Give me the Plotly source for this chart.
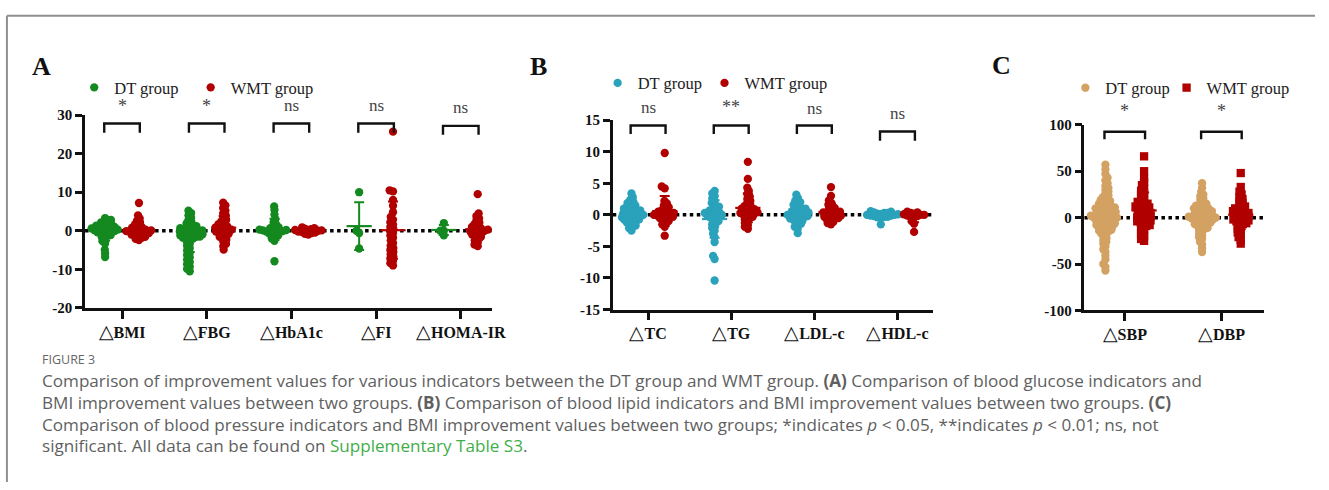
import math
import plotly.graph_objects as go

W, H = 1329, 490

# ---------------- data ----------------
A_categories = ["BMI", "FBG", "HbA1c", "FI", "HOMA-IR"]
B_categories = ["TC", "TG", "LDL-c", "HDL-c"]
C_categories = ["SBP", "DBP"]

A_DT = {
    "BMI": [3.3, 2.8, 2.5, 2.2, 2.0, 1.7, 1.5, 1.3, 1.2, 1.0, 0.9, 0.8, 0.6, 0.5, 0.4, 0.3, 0.2, 0.1, 0.0,
            -0.1, -0.2, -0.4, -0.5, -0.7, -0.9, -1.1, -1.4, -1.7, -2.1, -2.7, -3.3, -4.9, -5.8, -6.8],
    "FBG": [5.2, 4.6, 4.0, 3.4, 2.8, 2.3, 1.9, 1.5, 1.2, 1.0, 0.9, 0.7, 0.5, 0.4, 0.3, 0.1, 0.0, -0.1, -0.2,
            -0.3, -0.5, -0.6, -0.7, -0.9, -1.0, -1.1, -1.2, -1.4, -1.5, -1.6, -1.8, -1.9, -2.0, -2.3, -2.8,
            -3.3, -3.9, -4.5, -5.1, -5.7, -6.3, -6.9, -7.5, -8.1, -8.7, -9.3, -9.9, -10.5],
    "HbA1c": [6.3, 5.4, 4.2, 3.0, 2.2, 1.6, 1.2, 0.9, 0.7, 0.5, 0.3, 0.2, 0.1, 0.0, -0.1, -0.2, -0.3, -0.5,
              -0.7, -0.9, -1.2, -1.6, -2.0, -2.6, -7.9],
    "FI": [10.0, 0.0, -0.6, -4.6],
    "HOMA-IR": [2.0, 0.0, 0.0, -1.2],
}
A_WMT = {
    "BMI": [7.2, 4.0, 3.2, 2.6, 2.1, 1.7, 1.3, 1.0, 0.8, 0.6, 0.4, 0.3, 0.1, 0.0, -0.1, -0.2, -0.3, -0.5,
            -0.6, -0.7, -0.9, -1.0, -1.2, -1.4, -1.6, -1.8, -2.1, -2.4],
    "FBG": [7.3, 6.6, 5.9, 5.2, 4.5, 3.9, 3.3, 2.8, 2.4, 2.0, 1.7, 1.4, 1.1, 0.9, 0.7, 0.5, 0.3, 0.1, 0.0,
            -0.2, -0.4, -0.6, -0.8, -1.0, -1.3, -1.6, -1.9, -2.3, -2.8, -3.4, -4.0, -4.9],
    "HbA1c": [0.9, 0.7, 0.5, 0.4, 0.2, 0.1, 0.0, -0.1, -0.2, -0.3, -0.5, -0.6, -0.8, -1.0],
    "FI": [25.7, 10.5, 10.2, 8.0, 6.5, 4.8, 3.6, 2.9, 2.2, 1.6, 1.0, 0.5, 0.0, -0.6, -1.2, -1.8, -2.5, -3.2,
           -3.9, -4.5, -5.0, -5.5, -6.1, -6.7, -7.2, -7.8, -8.4, -9.0],
    "HOMA-IR": [9.5, 4.5, 3.8, 3.2, 2.6, 2.1, 1.7, 1.3, 1.0, 0.7, 0.5, 0.3, 0.1, 0.0, -0.2, -0.4, -0.6, -0.8,
                -1.0, -1.3, -1.6, -2.0, -2.5, -3.0, -3.6, -4.0],
}
B_DT = {
    "TC": [3.4, 2.8, 2.4, 2.1, 1.9, 1.7, 1.5, 1.3, 1.2, 1.0, 0.9, 0.8, 0.7, 0.6, 0.5, 0.4, 0.3, 0.2, 0.1, 0.0,
           0.0, -0.1, -0.2, -0.3, -0.4, -0.5, -0.6, -0.7, -0.8, -0.9, -1.0, -1.2, -1.3, -1.5, -1.7, -1.9,
           -2.1, -2.5],
    "TG": [3.8, 3.4, 3.0, 2.6, 2.2, 1.9, 1.6, 1.3, 1.1, 0.9, 0.7, 0.5, 0.4, 0.3, 0.2, 0.1, 0.0, -0.1, -0.2,
           -0.3, -0.4, -0.6, -0.8, -1.0, -1.2, -1.5, -1.8, -2.1, -2.5, -3.0, -3.5, -4.3, -6.5, -7.0, -10.4],
    "LDL-c": [3.2, 2.7, 2.3, 2.0, 1.8, 1.6, 1.4, 1.2, 1.0, 0.9, 0.8, 0.6, 0.5, 0.4, 0.3, 0.2, 0.1, 0.0, 0.0,
              -0.1, -0.2, -0.3, -0.4, -0.5, -0.6, -0.7, -0.9, -1.0, -1.2, -1.4, -1.6, -1.9, -2.2, -2.9],
    "HDL-c": [0.6, 0.5, 0.4, 0.3, 0.3, 0.2, 0.1, 0.1, 0.0, 0.0, -0.1, -0.1, -0.2, -0.3, -0.3, -0.4, -0.5, -1.5],
}
B_WMT = {
    "TC": [9.8, 4.5, 4.2, 2.2, 1.8, 1.5, 1.2, 1.0, 0.8, 0.6, 0.5, 0.4, 0.3, 0.2, 0.1, 0.0, 0.0, -0.1, -0.2,
           -0.3, -0.4, -0.5, -0.6, -0.8, -1.0, -1.2, -1.5, -1.9, -3.3],
    "TG": [8.4, 5.7, 4.3, 3.8, 3.3, 2.9, 2.5, 2.2, 1.9, 1.6, 1.4, 1.2, 1.0, 0.9, 0.7, 0.6, 0.5, 0.4, 0.3, 0.2,
           0.1, 0.0, -0.1, -0.3, -0.5, -0.7, -1.0, -1.3, -1.6, -1.9, -2.2],
    "LDL-c": [4.4, 3.0, 2.3, 1.9, 1.6, 1.3, 1.1, 0.9, 0.7, 0.5, 0.4, 0.3, 0.2, 0.1, 0.0, -0.1, -0.2, -0.3,
              -0.4, -0.5, -0.6, -0.7, -0.9, -1.1, -1.3, -1.5],
    "HDL-c": [0.5, 0.4, 0.3, 0.2, 0.1, 0.0, 0.0, -0.1, -0.2, -0.3, -0.4, -1.0, -1.4, -2.7],
}
C_DT = {
    "SBP": [57, 52, 47, 43, 40, 37, 34, 32, 30, 28, 26, 24, 22, 21, 19, 18, 16, 15, 14, 12, 11, 10, 9, 8, 7,
            6, 5, 4, 3, 2, 1, 0, 0, -1, -2, -3, -4, -5, -6, -7, -8, -9, -10, -11, -12, -14, -15, -17, -18,
            -20, -22, -24, -26, -28, -31, -34, -37, -41, -45, -50, -53, -57, 0, 3, -3, 6, -6, 9, 12, -13,
            1, -1, 4, -4, 7, -8, 10, -10, 13, -15, 18, 2],
    "DBP": [37, 32, 28, 25, 23, 21, 19, 17, 15, 14, 12, 11, 10, 9, 8, 7, 6, 5, 4, 3, 2, 1, 0, 0, -1, -2, -3,
            -4, -5, -6, -7, -8, -9, -10, -12, -13, -15, -17, -19, -21, -23, -26, -29, -33, -37, 2, -2, 5, -5,
            1, -1, 3, -3, 7, -7, 10, -11, 13, 0],
}
C_WMT = {
    "SBP": [66, 50, 42, 38, 35, 32, 29, 27, 25, 23, 21, 19, 17, 15, 14, 12, 11, 10, 8, 7, 6, 5, 4, 3, 2, 1,
            0, -1, -2, -3, -4, -5, -6, -8, -9, -10, -12, -14, -16, -18, -20, -23, -25, 5, 0, -5, 10, 15],
    "DBP": [48, 33, 28, 25, 22, 20, 18, 16, 14, 12, 11, 10, 9, 8, 7, 6, 5, 4, 3, 2, 1, 0, -1, -2, -3, -4,
            -5, -6, -7, -8, -10, -12, -14, -16, -18, -21, -24, -28, 3, 0, -3, 6],
}

A_sig = ["*", "*", "ns", "ns", "ns"]
B_sig = ["ns", "**", "ns", "ns"]
C_sig = ["*", "*"]

A_yticks = [-20, -10, 0, 10, 20, 30]
B_yticks = [-15, -10, -5, 0, 5, 10, 15]
C_yticks = [-100, -50, 0, 50, 100]

series_names = ["DT group", "WMT group"]

# ---------------- styling / layout config ----------------
RED = "#b10000"
SERIF = "Liberation Serif"


def X(p):
    return p / W


def Y(p):
    return 1 - p / H


panels = [
    dict(key="A", cats=A_categories, dt=A_DT, wmt=A_WMT, sig=A_sig, yt=A_yticks,
         dtcolor="#14891f", wmtsym="circle",
         xdom=(86, 497), ydom=(110.7, 310), xr=(-0.436, 4.366), yr=(-20, 30),
         sig_y=[32.3, 32.3, 32.6, 32.6, 32.0], br_top=[27.8, 27.8, 27.8, 27.8, 27.2],
         br_leg=[25.4, 25.4, 25.4, 25.4, 24.9],
         label=(42, 60), legpos=[(95, 82.3), (212.7, 82.3)]),
    dict(key="B", cats=B_categories, dt=B_DT, wmt=B_WMT, sig=B_sig, yt=B_yticks,
         dtcolor="#2aa2bb", wmtsym="circle",
         xdom=(619.3, 943.3), ydom=(116, 311.7), xr=(-0.425, 3.432), yr=(-15, 15),
         sig_y=[17.0, 17.1, 16.8, 16.1], br_top=[14.15, 14.15, 14.15, 13.2],
         br_leg=[12.8, 12.8, 12.8, 11.75],
         label=(544, 60), legpos=[(624, 77.7), (732, 77.7)]),
    dict(key="C", cats=C_categories, dt=C_DT, wmt=C_WMT, sig=C_sig, yt=C_yticks,
         dtcolor="#d3a263", wmtsym="square",
         xdom=(1096, 1277), ydom=(120.7, 312.7), xr=(-0.417, 1.436), yr=(-100, 100),
         sig_y=[115, 115], br_top=[92.4, 92.4], br_leg=[84.4, 84.4],
         label=(1012, 59), legpos=[(1096.7, 82.7), (1199, 82.7)]),
]

OFF = 0.2       # group offset from category centre (category units)
MSIZE = 8.3     # marker diameter px
CDIST = 3.6     # swarm collision distance px


def swarm(vals, ypx):
    """Beeswarm offsets (px) for values given y pixel scale."""
    n = len(vals)
    order = sorted(range(n), key=lambda i: vals[i])
    placed = []
    xs = [0.0] * n
    for i in order:
        y = vals[i] * ypx
        cands = [0.0]
        for (qx, qy) in placed:
            dy = abs(qy - y)
            if dy < CDIST:
                dx = math.sqrt(CDIST ** 2 - dy ** 2)
                cands += [qx + dx, qx - dx]
        cands.sort(key=lambda c: (abs(c), c))
        for c in cands:
            if all((c - qx) ** 2 + (y - qy) ** 2 >= CDIST ** 2 - 1e-6 for (qx, qy) in placed):
                xs[i] = c
                break
        placed.append((xs[i], y))
    return xs


def mean_sd(v):
    m = sum(v) / len(v)
    sd = math.sqrt(sum((a - m) ** 2 for a in v) / (len(v) - 1))
    return m, sd


fig = go.Figure()
shapes = []
annotations = []
layout_axes = {}
legend_count = 0

for pi, P in enumerate(panels):
    n = pi + 1
    xa = "x" if n == 1 else f"x{n}"
    ya = "y" if n == 1 else f"y{n}"
    catpx = (P["xdom"][1] - P["xdom"][0]) / (P["xr"][1] - P["xr"][0])
    ypx = (P["ydom"][1] - P["ydom"][0]) / (P["yr"][1] - P["yr"][0])

    def val_to_py(v):
        return P["ydom"][1] - (v - P["yr"][0]) * ypx

    groups = [(series_names[0], P["dt"], P["dtcolor"], "circle", -OFF),
              (series_names[1], P["wmt"], RED, P["wmtsym"], OFF)]
    # error bars (mean ± SD) beneath points
    for name, data, color, sym, off in groups:
        mx, my, msd = [], [], []
        for ci, c in enumerate(P["cats"]):
            m, sd = mean_sd(data[c])
            mx.append(ci + off)
            my.append(m)
            msd.append(sd)
        fig.add_trace(go.Scatter(
            x=mx, y=my, xaxis=xa, yaxis=ya, mode="markers", showlegend=False, hoverinfo="skip",
            marker=dict(symbol="line-ew", size=18, color=color, line=dict(width=2.2, color=color)),
            error_y=dict(type="data", array=msd, visible=True, color=color, thickness=2, width=5),
            cliponaxis=False))
    for gi, (name, data, color, sym, off) in enumerate(groups):
        xs, ys = [], []
        for ci, c in enumerate(P["cats"]):
            offs = swarm(data[c], ypx)
            for v, o in zip(data[c], offs):
                xs.append(ci + off + o / catpx)
                ys.append(v)
        legend_count += 1
        leg = "legend" if legend_count == 1 else f"legend{legend_count}"
        fig.add_trace(go.Scatter(
            x=xs, y=ys, xaxis=xa, yaxis=ya, mode="markers", name=name, legend=leg,
            marker=dict(symbol=sym, size=MSIZE, color=color, line=dict(width=0)),
            cliponaxis=False))
        lx, ly = P["legpos"][gi]
        layout_axes[leg] = dict(
            x=X(lx - 20), y=Y(ly), xanchor="left", yanchor="middle",
            orientation="h", bgcolor="rgba(0,0,0,0)", borderwidth=0,
            font=dict(family=SERIF, size=16.5, color="#222"))

    # zero dotted line
    shapes.append(dict(type="line", xref=f"{xa} domain", yref=ya, x0=0, x1=1, y0=0, y1=0,
                       line=dict(color="black", width=3.5, dash="dot"), layer="below"))
    # brackets + significance labels
    for ci, s in enumerate(P["sig"]):
        x0, x1 = ci - 0.21, ci + 0.21
        t, l = P["br_top"][ci], P["br_leg"][ci]
        shapes.append(dict(type="path", xref=xa, yref=ya,
                           path=f"M {x0},{l} L {x0},{t} L {x1},{t} L {x1},{l}",
                           line=dict(color="#111", width=2.4)))
        annotations.append(dict(x=ci, y=Y(val_to_py(P["sig_y"][ci])), xref=xa, yref="paper",
                                text=s, showarrow=False,
                                font=dict(family=SERIF, size=18 if "*" in s else 17, color="#444"),
                                xanchor="center", yanchor="middle"))
    # panel letter
    annotations.append(dict(x=X(P["label"][0]), y=Y(P["label"][1]), xref="paper", yref="paper",
                            text=f"<b>{P['key']}</b>", showarrow=False,
                            font=dict(family=SERIF, size=26, color="#111"),
                            xanchor="center", yanchor="middle"))

    axkey_x = "xaxis" if n == 1 else f"xaxis{n}"
    axkey_y = "yaxis" if n == 1 else f"yaxis{n}"
    layout_axes[axkey_x] = dict(
        domain=[X(P["xdom"][0]), X(P["xdom"][1])], range=list(P["xr"]), anchor=ya,
        showline=True, linecolor="#111", linewidth=2.5, ticks="outside", ticklen=8, tickwidth=2.5,
        tickcolor="#111", tickvals=list(range(len(P["cats"]))),
        ticktext=[f"<span style='font-size:19px'>△</span><b>{c}</b>" for c in P["cats"]],
        tickfont=dict(family=SERIF, size=16, color="#111"), showgrid=False, zeroline=False,
        fixedrange=True)
    layout_axes[axkey_y] = dict(
        domain=[Y(P["ydom"][1]), Y(P["ydom"][0])], range=list(P["yr"]), anchor=xa,
        showline=True, linecolor="#111", linewidth=2.5, ticks="outside", ticklen=7, tickwidth=2.5,
        tickcolor="#111", tickvals=P["yt"], ticktext=[str(v) for v in P["yt"]],
        tickfont=dict(family=SERIF, size=15, color="#111", weight="bold"),
        showgrid=False, zeroline=False, fixedrange=True)

# caption
CAP_FONT = dict(family="Open Sans", size=17.1, color="#5f5f5f")
caption_lines = [
    "Comparison of improvement values for various indicators between the DT group and WMT group. "
    "<b>(A)</b> Comparison of blood glucose indicators and",
    "BMI improvement values between two groups. <b>(B)</b> Comparison of blood lipid indicators and "
    "BMI improvement values between two groups. <b>(C)</b>",
    "Comparison of blood pressure indicators and BMI improvement values between two groups; "
    "*indicates <i>p</i> &lt; 0.05, **indicates <i>p</i> &lt; 0.01; ns, not",
    "significant. All data can be found on "
    "<span style='color:#3fae49'>Supplementary Table S3</span>.",
]
cap_y = [385.5, 407.8, 430.1, 452.4]
annotations.append(dict(x=X(40), y=Y(363.5), xref="paper", yref="paper", text="FIGURE 3",
                        showarrow=False, xanchor="left", yanchor="middle",
                        font=dict(family="Open Sans", size=12.5, color="#666")))
for txt, yy in zip(caption_lines, cap_y):
    annotations.append(dict(x=X(40), y=Y(yy), xref="paper", yref="paper", text=txt,
                            showarrow=False, xanchor="left", yanchor="middle", align="left",
                            font=CAP_FONT))

# frame lines
shapes.append(dict(type="line", xref="paper", yref="paper", x0=X(7), x1=1, y0=Y(8), y1=Y(8),
                   line=dict(color="#8f8f8f", width=2)))
shapes.append(dict(type="line", xref="paper", yref="paper", x0=X(7), x1=X(7), y0=0, y1=Y(8),
                   line=dict(color="#8f8f8f", width=2)))

fig.update_layout(
    width=W, height=H, margin=dict(l=0, r=0, t=0, b=0), autosize=False,
    paper_bgcolor="white", plot_bgcolor="white",
    shapes=shapes, annotations=annotations, hovermode=False,
    **layout_axes)

fig.write_html("out.html", config={"displayModeBar": False})
